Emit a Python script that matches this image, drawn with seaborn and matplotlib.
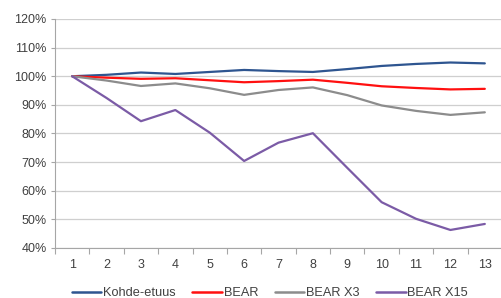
import matplotlib
matplotlib.use("Agg")
import matplotlib.pyplot as plt
import seaborn as sns
import pandas as pd
import numpy as np
from matplotlib.ticker import FixedLocator, PercentFormatter

periods = list(range(1, 14))
kohde = [100, 100.5, 101.3, 100.8, 101.5, 102.2, 101.8, 101.5, 102.5, 103.6, 104.3, 104.8, 104.5]
bear = [100, 99.5, 99.1, 99.3, 98.6, 97.9, 98.3, 98.8, 97.7, 96.5, 95.9, 95.4, 95.6]
bear_x3 = [100, 98.5, 96.6, 97.5, 95.8, 93.5, 95.2, 96.1, 93.4, 89.8, 87.9, 86.5, 87.4]
bear_x15 = [100, 92.4, 84.3, 88.2, 80.3, 70.4, 76.8, 80.1, 68.0, 56.0, 50.2, 46.3, 48.4]
series_names = ["Kohde-etuus", "BEAR", "BEAR X3", "BEAR X15"]
colors = ["#2e5590", "#ff1010", "#8c8c8c", "#7b5ba6"]

df = pd.DataFrame({"period": periods, "Kohde-etuus": kohde, "BEAR": bear,
                   "BEAR X3": bear_x3, "BEAR X15": bear_x15})
long = df.melt(id_vars="period", var_name="series", value_name="value")

sns.set_theme(style="white")
plt.rcParams["font.family"] = ["Liberation Sans", "DejaVu Sans"]

fig = plt.figure(figsize=(5.02, 2.98), dpi=100)
ax = fig.add_axes([55 / 502, 1 - 248 / 298, 1 - 55 / 502, (248 - 19) / 298])

sns.lineplot(data=long, x="period", y="value", hue="series", hue_order=series_names,
             palette=colors, linewidth=1.6, ax=ax, legend=False)

ax.set_xlim(0.5, 13.5)
ax.set_ylim(40, 120)
ax.set_yticks(np.arange(40, 121, 10))
ax.yaxis.set_major_formatter(PercentFormatter(decimals=0))
ax.set_xticks(periods)
ax.xaxis.set_minor_locator(FixedLocator(np.arange(0.5, 14, 1)))
ax.tick_params(axis="x", which="major", length=0, pad=8, labelsize=9, colors="#404040")
ax.tick_params(axis="x", which="minor", length=4, width=0.8, color="#a6a6a6", direction="out", bottom=True)
ax.tick_params(axis="y", which="major", length=3, width=0.8, color="#a6a6a6", pad=3, labelsize=9,
               labelcolor="#404040", left=True)
ax.grid(axis="y", color="#cfcfcf", linewidth=0.9)
ax.grid(axis="x", visible=False)
ax.set_axisbelow(True)
for s in ["top", "right"]:
    ax.spines[s].set_visible(False)
ax.spines["left"].set_color("#a6a6a6")
ax.spines["bottom"].set_color("#a6a6a6")
ax.spines["left"].set_linewidth(0.8)
ax.spines["bottom"].set_linewidth(0.8)
ax.set_xlabel("")
ax.set_ylabel("")

handles = [plt.Line2D([], [], color=c, linewidth=1.8) for c in colors]
fig.legend(handles, series_names, loc="center", bbox_to_anchor=(270 / 502, 1 - 293 / 298),
           ncol=4, frameon=False, fontsize=9.2, handlelength=2.3, handletextpad=0.15,
           columnspacing=1.3, labelcolor="#404040", borderaxespad=0, borderpad=0)

fig.savefig("out.png", dpi=100)
